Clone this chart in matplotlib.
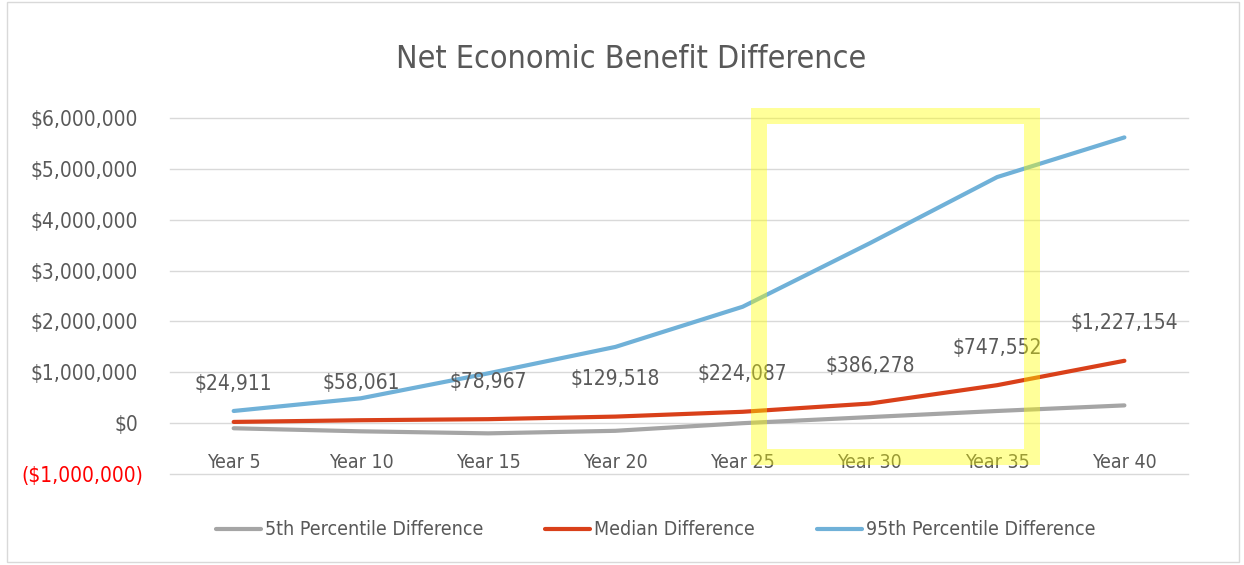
import matplotlib.pyplot as plt
from matplotlib import font_manager
from matplotlib.patches import Rectangle
from matplotlib.transforms import ScaledTranslation

# Chart data
years = ["Year 5", "Year 10", "Year 15", "Year 20", "Year 25", "Year 30", "Year 35", "Year 40"]
p5_diff = [-100000, -160000, -200000, -150000, 0, 120000, 240000, 350000]
median_diff = [24911, 58061, 78967, 129518, 224087, 386278, 747552, 1227154]
p95_diff = [240000, 490000, 980000, 1500000, 2290000, 3540000, 4840000, 5620000]
y_ticks = [-1000000, 0, 1000000, 2000000, 3000000, 4000000, 5000000, 6000000]

# Pick a narrow font if one is around
names = {f.name for f in font_manager.fontManager.ttflist}
if "Liberation Sans Narrow" in names:
    font = dict(family="Liberation Sans Narrow")
else:
    font = dict(family="DejaVu Sans", stretch="condensed")
plt.rcParams["font.family"] = font["family"]
if "stretch" in font:
    plt.rcParams["font.stretch"] = font["stretch"]

text_color = "#595959"
grid_color = "#D9D9D9"


def money(v):
    if v < 0:
        return "(${:,.0f})".format(-v)
    return "${:,.0f}".format(v)


fig = plt.figure(figsize=(12.44, 5.65), dpi=100)
ax = fig.add_axes([0.1367, 0.161, 0.8183, 0.630])

# Outer chart border
fig.patches.append(Rectangle((0.006, 0.006), 0.99, 0.99, transform=fig.transFigure,
                             fill=False, edgecolor=grid_color, linewidth=1))

x = list(range(len(years)))
ax.plot(x, p5_diff, color="#A5A5A5", lw=3, solid_capstyle="round", label="5th Percentile Difference")
ax.plot(x, median_diff, color="#D9401A", lw=3, solid_capstyle="round", label="Median Difference")
ax.plot(x, p95_diff, color="#70B1D8", lw=3, solid_capstyle="round", label="95th Percentile Difference")

for xi, v in zip(x, median_diff):
    ax.annotate(money(v), (xi, v), xytext=(0, 27), textcoords="offset points",
                ha="center", va="center", fontsize=15, color=text_color)

# Category labels sit just under the $0 line
for xi, name in zip(x, years):
    ax.text(xi, -770000, name, ha="center", va="center", fontsize=14, color=text_color)

ax.set_xlim(-0.5, len(years) - 0.5)
ax.set_ylim(y_ticks[0], y_ticks[-1])
ax.set_yticks(y_ticks)
ax.set_yticklabels([money(v) for v in y_ticks], fontsize=15, color=text_color)
ax.set_xticks([])
ax.tick_params(axis="y", length=0, pad=23)
neg = ax.get_yticklabels()[0]
neg.set_color("#FF0000")
neg.set_transform(neg.get_transform() + ScaledTranslation(5 / 100, 0, fig.dpi_scale_trans))
for v in y_ticks:
    ax.axhline(v, color=grid_color, lw=1, zorder=0, clip_on=False)
for s in ax.spines.values():
    s.set_visible(False)

# Yellow highlight box
ax.add_patch(Rectangle((4.13, -670000), 2.14, 6710000, fill=False,
                       edgecolor="#FFFF00", alpha=0.4, lw=11.5, zorder=5, clip_on=False))

fig.text(0.507, 0.895, "Net Economic Benefit Difference", ha="center", va="center",
         fontsize=23, color=text_color)

fig.legend(loc="center", bbox_to_anchor=(0.527, 0.062), ncol=3, frameon=False,
           fontsize=14, handlelength=2.3, handletextpad=0.2, columnspacing=3.2,
           labelcolor=text_color)

fig.savefig("out.png", dpi=100)
